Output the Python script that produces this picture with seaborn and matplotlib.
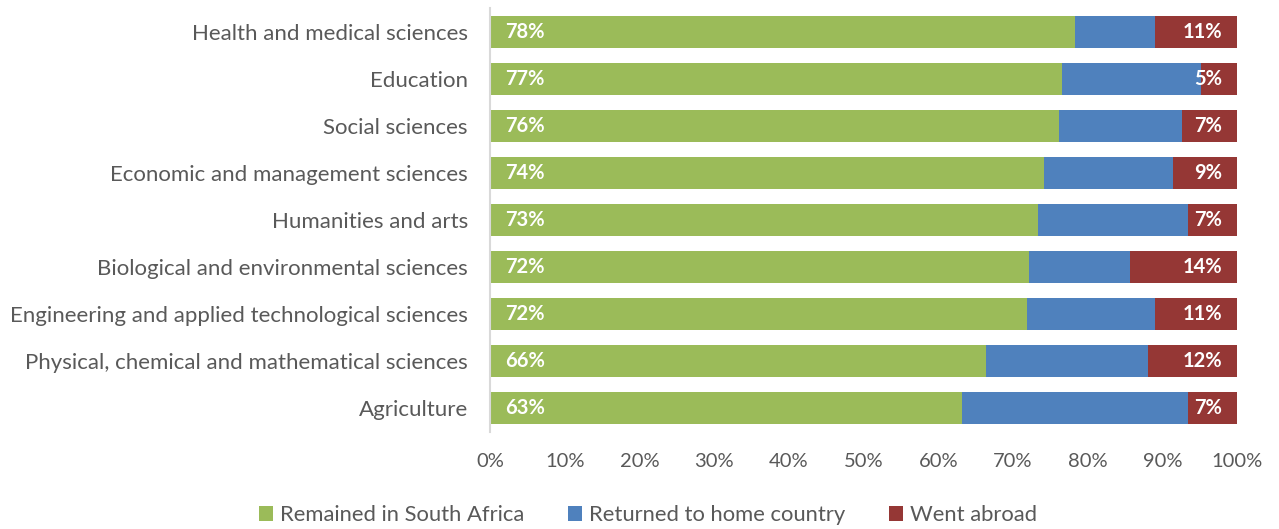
import pandas as pd
import seaborn as sns
import matplotlib.pyplot as plt
from matplotlib.patches import Patch

sns.set_style("white")
plt.rcParams['font.family'] = ['Lato', 'DejaVu Sans']

fields = ['Health and medical sciences', 'Education', 'Social sciences',
          'Economic and management sciences', 'Humanities and arts',
          'Biological and environmental sciences',
          'Engineering and applied technological sciences',
          'Physical, chemical and mathematical sciences', 'Agriculture']
remained = [78.3, 76.6, 76.2, 74.2, 73.4, 72.2, 71.9, 66.4, 63.2]
returned = [10.7, 18.6, 16.4, 17.2, 20.0, 13.5, 17.1, 21.7, 30.2]
abroad = [11.0, 4.8, 7.4, 8.6, 6.6, 14.3, 11.0, 11.9, 6.6]

series = ['Remained in South Africa', 'Returned to home country', 'Went abroad']
colors = ['#9BBB59', '#4F81BD', '#953735']
text_grey = '#595959'

df = pd.DataFrame({'Field': fields, 'Remained': remained,
                   'Returned': returned, 'Abroad': abroad})
df['c1'] = df['Remained']
df['c2'] = df['c1'] + df['Returned']
df['c3'] = df['c2'] + df['Abroad']

fig = plt.figure(figsize=(12.79, 5.29), dpi=100)
ax = fig.add_axes([490/1279, 1 - 432/529, 747/1279, 424/529])

# stacked bars drawn back to front
for col, c in zip(['c3', 'c2', 'c1'], colors[::-1]):
    sns.barplot(data=df, x=col, y='Field', color=c, orient='h',
                width=0.68, saturation=1, ax=ax, linewidth=0)

for i, row in df.iterrows():
    ax.text(2.0, i, f"{row['Remained']:.0f}%", ha='left', va='center',
            color='white', fontsize=14.5, fontweight='bold')
    ax.text(98.0, i, f"{row['Abroad']:.0f}%", ha='right', va='center',
            color='white', fontsize=14.5, fontweight='bold')

ax.set_xlim(0, 100)
ax.set_ylim(8.5, -0.5)
ax.set_xticks(range(0, 101, 10))
ax.set_xticklabels([f'{v}%' for v in range(0, 101, 10)])
ax.set_xlabel('')
ax.set_ylabel('')
ax.tick_params(axis='x', length=0, pad=15, labelsize=14.5, colors=text_grey)
ax.tick_params(axis='y', length=0, pad=16, labelsize=16, colors=text_grey)
for s in ['top', 'right', 'bottom']:
    ax.spines[s].set_visible(False)
ax.spines['left'].set_color('#D9D9D9')
ax.spines['left'].set_linewidth(1.5)

handles = [Patch(facecolor=c, edgecolor='none', label=l) for c, l in zip(colors, series)]
leg = fig.legend(handles=handles, loc='center', bbox_to_anchor=(648/1279, 1 - 515/529),
                 ncol=3, frameon=False, fontsize=15.8, handlelength=0.65,
                 handleheight=0.65, handletextpad=0.3, columnspacing=2.0)
for t in leg.get_texts():
    t.set_color(text_grey)

fig.savefig('out.png', dpi=100)
